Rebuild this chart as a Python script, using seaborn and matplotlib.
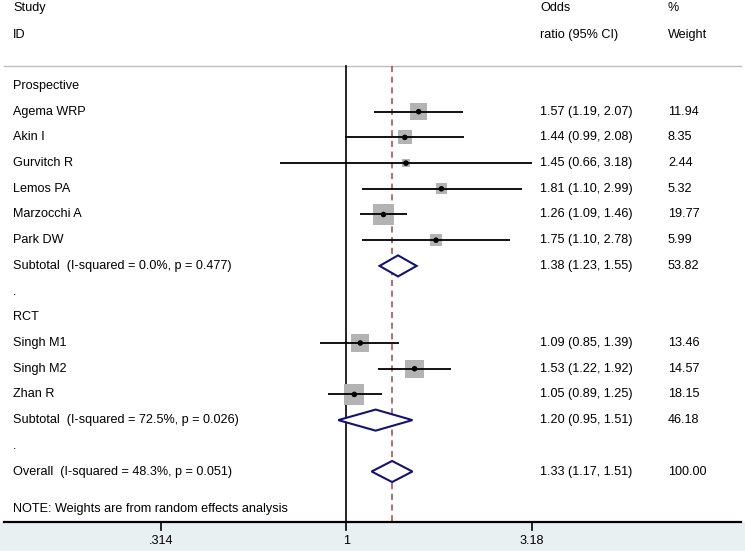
import numpy as np
import pandas as pd
import matplotlib
matplotlib.use("Agg")
import matplotlib.pyplot as plt
import seaborn as sns
from matplotlib.patches import Polygon
from matplotlib.transforms import blended_transform_factory

# ---------------- data ----------------
studies = ["Agema WRP", "Akin I", "Gurvitch R", "Lemos PA", "Marzocchi A", "Park DW",
           "Singh M1", "Singh M2", "Zhan R"]
groups = ["Prospective"] * 6 + ["RCT"] * 3
odds = [1.57, 1.44, 1.45, 1.81, 1.26, 1.75, 1.09, 1.53, 1.05]
lower = [1.19, 0.99, 0.66, 1.10, 1.09, 1.10, 0.85, 1.22, 0.89]
upper = [2.07, 2.08, 3.18, 2.99, 1.46, 2.78, 1.39, 1.92, 1.25]
weights = [11.94, 8.35, 2.44, 5.32, 19.77, 5.99, 13.46, 14.57, 18.15]

group_names = ["Prospective", "RCT"]
sub_labels = ["Subtotal  (I-squared = 0.0%, p = 0.477)",
              "Subtotal  (I-squared = 72.5%, p = 0.026)"]
sub_or = [1.38, 1.20]
sub_lo = [1.23, 0.95]
sub_hi = [1.55, 1.51]
sub_w = [53.82, 46.18]

overall_label = "Overall  (I-squared = 48.3%, p = 0.051)"
overall_or, overall_lo, overall_hi, overall_w = 1.33, 1.17, 1.51, 100.00

tick_values = [0.314, 1, 3.18]
tick_labels = [".314", "1", "3.18"]
note = "NOTE: Weights are from random effects analysis"

# ---------------- build row layout ----------------
rows = []  # (kind, label, or, lo, hi, w)
for g, gname in enumerate(group_names):
    rows.append(("header", gname, None, None, None, None))
    for s, gr, o, l, u, w in zip(studies, groups, odds, lower, upper, weights):
        if gr == gname:
            rows.append(("study", s, o, l, u, w))
    rows.append(("sub", sub_labels[g], sub_or[g], sub_lo[g], sub_hi[g], sub_w[g]))
    rows.append(("dot", ".", None, None, None, None))
rows.append(("sub", overall_label, overall_or, overall_lo, overall_hi, overall_w))

df = pd.DataFrame(rows, columns=["kind", "label", "or", "lo", "hi", "w"])
df["row"] = np.arange(len(df))
st = df[df.kind == "study"].copy()
st["w"] = st["w"].astype(float)
st["or"] = st["or"].astype(float)

# ---------------- figure ----------------
plt.rcParams["font.family"] = ["Liberation Sans", "DejaVu Sans"]
fig = plt.figure(figsize=(7.45, 5.51), dpi=100)
ax = fig.add_axes([0, 0, 1, 1])
ax.set_xscale("log")
ax.set_xlim(0.1147, 12.07)
ax.set_ylim(18.093, -3.346)
ax.axis("off")

xt = blended_transform_factory(ax.transAxes, ax.transData)
fs = 9.1

y_top_line = -0.778
y_axis = 16.965
y_tick_end = 17.28
y_tick_lab = 17.70
y_note = 16.46

# bottom band
ax.axhspan(y_axis, 18.093, color="#E9F0F2", zorder=0)
ax.plot([0.005, 0.995], [y_axis, y_axis], transform=xt, color="black", lw=1.6, zorder=3)
ax.plot([0.005, 0.995], [y_top_line, y_top_line], transform=xt, color="#BDBDBD", lw=1.0, zorder=1)

# reference lines
ax.plot([1, 1], [y_top_line, y_axis], color="black", lw=1.2, zorder=1)
ax.plot([overall_or, overall_or], [y_top_line, y_axis], color="#A0464B", lw=1.1,
        ls=(0, (4, 3)), zorder=1)

# ticks
for tv, tl in zip(tick_values, tick_labels):
    ax.plot([tv, tv], [y_axis, y_tick_end], color="black", lw=1.2, zorder=3)
    ax.text(tv, y_tick_lab, tl, ha="center", va="center", fontsize=fs)

# CI lines
ax.hlines(st["row"], st["lo"].astype(float), st["hi"].astype(float), color="black", lw=1.3, zorder=2)

# weight squares (area proportional to weight)
sns.scatterplot(data=st, x="or", y="row", size="w", sizes=(0, 235), size_norm=(0, 19.77),
                marker="s", color="#B3B3B3", edgecolor="none", legend=False, ax=ax, zorder=1.5)
# point estimates
sns.scatterplot(data=st, x="or", y="row", marker="o", color="black", s=16,
                edgecolor="none", legend=False, ax=ax, zorder=3)

# diamonds
h = 0.41
for _, r in df[df.kind == "sub"].iterrows():
    y = r["row"]
    verts = [(r["lo"], y), (r["or"], y - h), (r["hi"], y), (r["or"], y + h)]
    ax.add_patch(Polygon(verts, closed=True, facecolor="white", edgecolor="#14146E",
                         lw=1.5, zorder=2))

# texts
x_lab, x_or, x_w = 13 / 745, 540 / 745, 668 / 745
ax.text(x_lab, -3.035, "Study", transform=xt, va="center", fontsize=fs)
ax.text(x_lab, -1.984, "ID", transform=xt, va="center", fontsize=fs)
ax.text(x_or, -3.035, "Odds", transform=xt, va="center", fontsize=fs)
ax.text(x_or, -1.984, "ratio (95% CI)", transform=xt, va="center", fontsize=fs)
ax.text(x_w, -3.035, "%", transform=xt, va="center", fontsize=fs)
ax.text(x_w, -1.984, "Weight", transform=xt, va="center", fontsize=fs)

for _, r in df.iterrows():
    ax.text(x_lab, r["row"], r["label"], transform=xt, va="center", fontsize=fs)
    if r["kind"] in ("study", "sub"):
        ax.text(x_or, r["row"], f"{r['or']:.2f} ({r['lo']:.2f}, {r['hi']:.2f})",
                transform=xt, va="center", fontsize=fs)
        ax.text(x_w, r["row"], f"{r['w']:.2f}", transform=xt, va="center", fontsize=fs)

ax.text(x_lab, y_note, note, transform=xt, va="center", fontsize=fs)

fig.savefig("out.png", dpi=100, facecolor="white")
